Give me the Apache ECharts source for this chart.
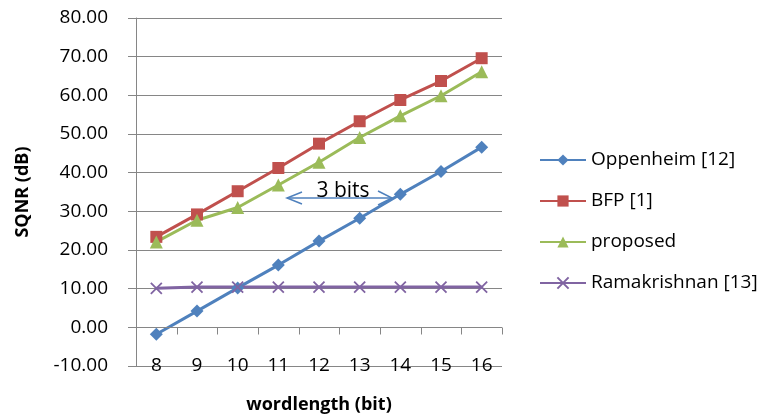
<!DOCTYPE html>
<html>
<head>
<meta charset="utf-8">
<script src="https://cdn.jsdelivr.net/npm/echarts@6/dist/echarts.min.js"></script>
<style>html,body{margin:0;padding:0;background:#fff}#c{width:763px;height:417px}</style>
</head>
<body>
<div id="c"></div>
<script>
const categories = ['8', '9', '10', '11', '12', '13', '14', '15', '16'];
const oppenheim = [-1.8, 4.2, 10.2, 16.1, 22.3, 28.2, 34.4, 40.3, 46.6];
const bfp = [23.4, 29.2, 35.2, 41.2, 47.5, 53.3, 58.8, 63.7, 69.6];
const proposed = [22.1, 27.7, 31.0, 36.8, 42.7, 49.1, 54.7, 59.9, 66.1];
const ramakrishnan = [10.1, 10.4, 10.4, 10.4, 10.4, 10.4, 10.4, 10.4, 10.4];
const seriesNames = ['Oppenheim [12]', 'BFP [1]', 'proposed', 'Ramakrishnan [13]'];
const yTicks = { min: -10, max: 80, interval: 10 };

const FONT = 'Open Sans';
const GRAY = '#868686';
const W = 763, H = 417;
const GRID = { left: 136, right: 261, top: 18, bottom: 51 };
const plotW = W - GRID.left - GRID.right;
const plotH = H - GRID.top - GRID.bottom;

const chart = echarts.init(document.getElementById('c'), null, { renderer: 'canvas' });

function mk(name, data, color, symbol, size, extra) {
  return Object.assign({
    name: name, type: 'line', data: data,
    symbol: symbol, symbolSize: size,
    lineStyle: { color: color, width: 3 },
    itemStyle: { color: color },
    emphasis: { disabled: true }
  }, extra || {});
}

const annotation = [
  { type: 'polyline', z: 100, shape: { points: [[302, 192], [287, 198], [302, 204]] },
    style: { stroke: '#4F81BD', lineWidth: 1.5, fill: null } },
  { type: 'line', z: 100, shape: { x1: 287, y1: 198, x2: 392, y2: 198 },
    style: { stroke: '#4F81BD', lineWidth: 1.5 } },
  { type: 'polyline', z: 100, shape: { points: [[378, 191], [392, 198], [378, 205]] },
    style: { stroke: '#4F81BD', lineWidth: 1.5, fill: null } },
  { type: 'text', z: 101, x: 343, y: 191,
    style: { text: '3 bits', fontSize: 21, fontFamily: FONT, fill: '#000',
      align: 'center', verticalAlign: 'middle' } }
];

// category axis line through value 0 (Excel style), ticks at category boundaries
const y0 = Math.round(GRID.top + (yTicks.max - 0) / (yTicks.max - yTicks.min) * plotH) + 0.5;
const band = plotW / categories.length;
const axisEls = [{ type: 'line', z: 50, silent: true,
  shape: { x1: GRID.left, y1: y0, x2: GRID.left + plotW, y2: y0 },
  style: { stroke: GRAY, lineWidth: 1 } }];
for (let i = 1; i <= categories.length; i++) {
  const x = Math.round(GRID.left + band * i) + 0.5;
  axisEls.push({ type: 'line', z: 50, silent: true,
    shape: { x1: x, y1: y0, x2: x, y2: y0 + 7 },
    style: { stroke: GRAY, lineWidth: 1 } });
}

chart.setOption({
  animation: false,
  textStyle: { fontFamily: FONT, color: '#000' },
  grid: Object.assign({ containLabel: false, outerBoundsMode: 'none' }, GRID),
  xAxis: {
    type: 'category', data: categories, boundaryGap: true, position: 'bottom',
    axisLine: { show: false, onZero: false },
    axisTick: { show: false },
    axisLabel: { fontSize: 19, color: '#000', margin: 0, verticalAlign: 'middle', fontFamily: FONT, interval: 0 },
    name: 'wordlength (bit)', nameLocation: 'middle', nameGap: 30,
    nameTextStyle: { fontSize: 18, fontWeight: 'bold', color: '#000', fontFamily: FONT }
  },
  yAxis: {
    type: 'value', min: yTicks.min, max: yTicks.max, interval: yTicks.interval,
    axisLine: { show: true, onZero: false, lineStyle: { color: GRAY, width: 1 } },
    axisTick: { show: true, length: 8, lineStyle: { color: GRAY } },
    splitLine: { show: true, lineStyle: { color: GRAY, width: 1 } },
    axisLabel: { fontSize: 19, color: '#000', margin: 28, fontFamily: FONT,
      formatter: v => v.toFixed(2) },
    name: 'SQNR (dB)', nameLocation: 'middle', nameRotate: 90, nameGap: 104,
    nameTextStyle: { fontSize: 18, fontWeight: 'bold', color: '#000', fontFamily: FONT }
  },
  legend: {
    orient: 'vertical', left: 534, top: 145,
    itemWidth: 46, itemHeight: 14, itemGap: 21,
    data: seriesNames,
    textStyle: { fontSize: 19, color: '#000', fontFamily: FONT, lineHeight: 20 }
  },
  series: [
    mk(seriesNames[0], oppenheim, '#4F81BD', 'diamond', 13),
    mk(seriesNames[1], bfp, '#C0504D', 'rect', 12),
    mk(seriesNames[2], proposed, '#9BBB59', 'triangle', 13),
    mk(seriesNames[3], ramakrishnan, '#8064A2', 'path://M0,0L10,10M10,0L0,10', 11,
      { itemStyle: { color: '#8064A2', borderColor: '#8064A2', borderWidth: 1.8 } })
  ],
  graphic: axisEls.concat(annotation)
});
</script>
</body>
</html>
